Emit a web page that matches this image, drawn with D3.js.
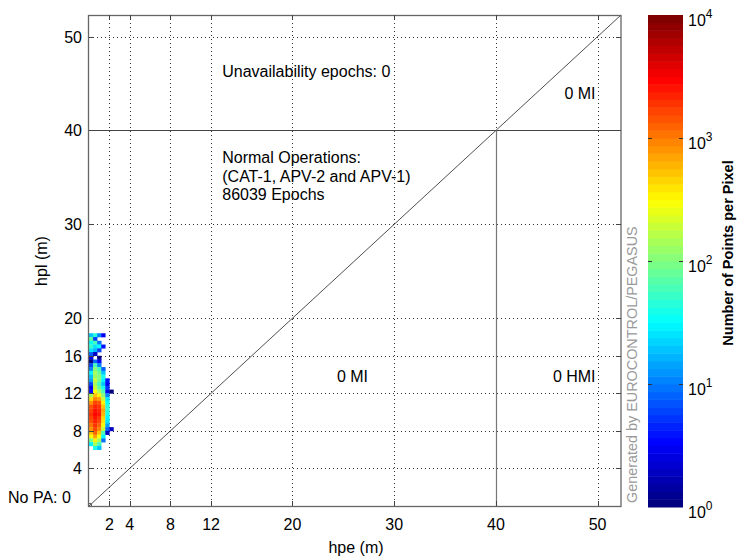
<!DOCTYPE html>
<html>
<head>
<meta charset="utf-8">
<script src="https://cdn.jsdelivr.net/npm/d3@7"></script>
<style>
  body { margin: 0; background: #fff; }
  text { font-family: "Liberation Sans", Arial, sans-serif; fill: #000; }
</style>
</head>
<body>
<svg id="chart" width="737" height="558"></svg>
<script>
// axis ticks (m)
var xTicks = [2, 4, 8, 12, 20, 30, 40, 50];
var yTicks = [4, 8, 12, 16, 20, 30, 40, 50];
var axisMax = 52.3;
var alertLimit = 40;

// histogram bins (m) and counts per pixel, rows from top (hpl) to bottom
var binSize = 0.4;
var hpeBins = [0, 0.4, 0.8, 1.2, 1.6, 2.0];
var hplBins = [18.0, 17.6, 17.2, 16.8, 16.4, 16.0, 15.6, 15.2, 14.8, 14.4,
               14.0, 13.6, 13.2, 12.8, 12.4, 12.0, 11.6, 11.2, 10.8, 10.4,
               10.0, 9.6, 9.2, 8.8, 8.4, 8.0, 7.6, 7.2, 6.8, 6.4, 6.0];
var counts = [
  [20, 45, 12, 3, 0, 0],
  [90, 6, 0, 0, 0, 0],
  [35, 60, 10, 0, 0, 0],
  [55, 25, 35, 4, 0, 0],
  [25, 18, 6, 0, 0, 0],
  [8, 2, 0, 0, 0, 0],
  [3, 0, 1, 0, 0, 0],
  [1, 8, 3, 0, 0, 0],
  [6, 60, 12, 0, 0, 0],
  [12, 110, 60, 8, 0, 0],
  [30, 160, 90, 20, 0, 0],
  [20, 130, 110, 40, 0, 0],
  [15, 220, 100, 30, 4, 0],
  [6, 150, 60, 20, 3, 0],
  [3, 200, 90, 40, 5, 0],
  [4, 300, 160, 60, 3, 1],
  [150, 600, 400, 120, 12, 0],
  [450, 1000, 800, 220, 25, 0],
  [900, 1800, 1500, 400, 35, 0],
  [1500, 2600, 2200, 600, 45, 0],
  [1900, 3100, 2600, 800, 50, 0],
  [2200, 3400, 2700, 650, 40, 0],
  [1900, 3000, 2300, 520, 30, 0],
  [1500, 2600, 1900, 420, 25, 0],
  [1200, 2200, 1400, 300, 15, 0],
  [850, 1800, 1000, 200, 8, 2],
  [600, 1400, 600, 60, 2, 0],
  [300, 800, 300, 30, 0, 0],
  [100, 400, 150, 10, 0, 0],
  [30, 150, 60, 0, 0, 0],
  [0, 40, 20, 0, 0, 0]
];

// colour bar
var cbTicks = [0, 1, 2, 3, 4];   // exponents of 10
var cbLevels = 64;

// annotations
var regionLabels = [
  { x: 13.1, y: 45.7, text: "Unavailability epochs: 0", anchor: "start" },
  { x: 13.1, y: 36.5, text: "Normal Operations:", anchor: "start" },
  { x: 13.1, y: 34.5, text: "(CAT-1, APV-2 and APV-1)", anchor: "start" },
  { x: 13.1, y: 32.6, text: "86039 Epochs", anchor: "start" },
  { x: 49.8, y: 43.4, text: "0 MI", anchor: "end" },
  { x: 25.9, y: 13.2, text: "0 MI", anchor: "middle" },
  { x: 49.8, y: 13.2, text: "0 HMI", anchor: "end" }
];

function jet(t) {
  var c = function(v) { return Math.round(255 * Math.max(0, Math.min(1, v))); };
  return "rgb(" + c(1.5 - Math.abs(4 * t - 3)) + "," + c(1.5 - Math.abs(4 * t - 2)) + "," + c(1.5 - Math.abs(4 * t - 1)) + ")";
}

var svg = d3.select("#chart");
var pL = 89, pR = 621, pT = 15, pB = 506;

var x = d3.scaleLinear().domain([0, axisMax]).range([pL, pR]);
var y = d3.scaleLinear().domain([0, axisMax]).range([pB, pT]);
var c = d3.scaleLog().domain([1, 10000]).range([0, 1]).clamp(true);

// grid
var grid = svg.append("g").attr("stroke", "#333").attr("stroke-width", 1).attr("stroke-dasharray", "1,3");
grid.selectAll(".gx").data(xTicks).enter().append("line")
  .attr("x1", d => Math.round(x(d)) + 0.5).attr("x2", d => Math.round(x(d)) + 0.5)
  .attr("y1", pT).attr("y2", pB);
grid.selectAll(".gy").data(yTicks).enter().append("line")
  .attr("y1", d => Math.round(y(d)) + 0.5).attr("y2", d => Math.round(y(d)) + 0.5)
  .attr("x1", pL).attr("x2", pR);

// histogram cells
var cells = [];
counts.forEach(function(row, i) {
  row.forEach(function(n, j) {
    if (n > 0) cells.push({ hpe: hpeBins[j], hpl: hplBins[i], n: n });
  });
});
svg.append("g").selectAll("rect").data(cells).enter().append("rect")
  .attr("x", d => x(d.hpe))
  .attr("y", d => y(d.hpl + binSize))
  .attr("width", d => x(d.hpe + binSize) - x(d.hpe) + 0.3)
  .attr("height", d => y(d.hpl) - y(d.hpl + binSize) + 0.3)
  .attr("fill", d => jet(Math.floor(c(d.n) * (cbLevels - 1)) / (cbLevels - 1)));

// region boundaries
svg.append("line")
  .attr("x1", x(0)).attr("y1", y(0)).attr("x2", x(axisMax)).attr("y2", y(axisMax))
  .attr("stroke", "#222").attr("stroke-width", 0.8);
svg.append("line")
  .attr("x1", pL).attr("x2", pR)
  .attr("y1", Math.round(y(alertLimit)) + 0.5).attr("y2", Math.round(y(alertLimit)) + 0.5)
  .attr("stroke", "#444").attr("stroke-width", 1.2);
svg.append("line")
  .attr("x1", Math.round(x(alertLimit)) + 0.5).attr("x2", Math.round(x(alertLimit)) + 0.5)
  .attr("y1", y(alertLimit)).attr("y2", pB)
  .attr("stroke", "#777").attr("stroke-width", 1.2);
svg.append("circle").attr("cx", x(0) + 1).attr("cy", y(0) - 1).attr("r", 1.6)
  .attr("fill", "none").attr("stroke", "#333").attr("stroke-width", 0.8);

// frame and ticks
svg.append("rect").attr("x", pL - 0.5).attr("y", pT + 0.5)
  .attr("width", pR - pL + 0.5).attr("height", pB - pT)
  .attr("fill", "none").attr("stroke", "#666").attr("stroke-width", 1.3);

var ticks = svg.append("g").attr("stroke", "#444").attr("stroke-width", 1);
xTicks.forEach(function(t) {
  var px = Math.round(x(t)) + 0.5;
  ticks.append("line").attr("x1", px).attr("x2", px).attr("y1", pB).attr("y2", pB - 5);
  ticks.append("line").attr("x1", px).attr("x2", px).attr("y1", pT).attr("y2", pT + 5);
});
yTicks.forEach(function(t) {
  var py = Math.round(y(t)) + 0.5;
  ticks.append("line").attr("y1", py).attr("y2", py).attr("x1", pL).attr("x2", pL + 5);
  ticks.append("line").attr("y1", py).attr("y2", py).attr("x1", pR).attr("x2", pR - 5);
});

svg.append("g").selectAll("text").data(xTicks).enter().append("text")
  .attr("x", d => x(d)).attr("y", 530)
  .attr("text-anchor", "middle").style("font-size", "16px").text(d => d);
svg.append("g").selectAll("text").data(yTicks).enter().append("text")
  .attr("x", 82).attr("y", d => y(d) + 6)
  .attr("text-anchor", "end").style("font-size", "16px").text(d => d);

svg.append("text").attr("x", 356).attr("y", 553).attr("text-anchor", "middle")
  .style("font-size", "16px").text("hpe (m)");
svg.append("text").attr("transform", "translate(47,261) rotate(-90)").attr("text-anchor", "middle")
  .style("font-size", "16px").text("hpl (m)");

svg.append("text").attr("x", 8).attr("y", 503).style("font-size", "16px").text("No PA: 0");

svg.append("g").selectAll("text").data(regionLabels).enter().append("text")
  .attr("x", d => x(d.x)).attr("y", d => y(d.y))
  .attr("text-anchor", d => d.anchor).style("font-size", "16px").text(d => d.text);

svg.append("text").attr("transform", "translate(637,503) rotate(-90)")
  .style("font-size", "14.4px").style("fill", "#9a9a9a")
  .text("Generated by EUROCONTROL/PEGASUS");

// colour bar
var cbL = 648, cbR = 683;
var cy = d3.scaleLinear().domain([0, cbLevels]).range([pB + 1, pT]);
svg.append("g").selectAll("rect").data(d3.range(cbLevels)).enter().append("rect")
  .attr("x", cbL).attr("width", cbR - cbL)
  .attr("y", d => cy(d + 1)).attr("height", d => cy(d) - cy(d + 1) + 0.5)
  .attr("fill", d => jet(d / (cbLevels - 1)));
var cbAxis = d3.scaleLinear().domain([0, 4]).range([pB + 1, pT]);
var cbT = svg.append("g").attr("stroke", "#333").attr("stroke-width", 1);
cbTicks.slice(1, 4).forEach(function(t) {
  var py = Math.round(cbAxis(t)) + 0.5;
  cbT.append("line").attr("x1", cbL).attr("x2", cbL + 4).attr("y1", py).attr("y2", py);
  cbT.append("line").attr("x1", cbR).attr("x2", cbR - 4).attr("y1", py).attr("y2", py);
});
var cbLab = svg.append("g").selectAll("text").data(cbTicks).enter().append("text")
  .attr("x", 688).attr("y", d => cbAxis(d) + 11).style("font-size", "16px");
cbLab.append("tspan").text("10");
cbLab.append("tspan").attr("dy", -8).style("font-size", "12px").text(d => d);

svg.append("text").attr("transform", "translate(733,253) rotate(-90)").attr("text-anchor", "middle")
  .style("font-size", "14.5px").style("font-weight", "bold").text("Number of Points per Pixel");
</script>
</body>
</html>
